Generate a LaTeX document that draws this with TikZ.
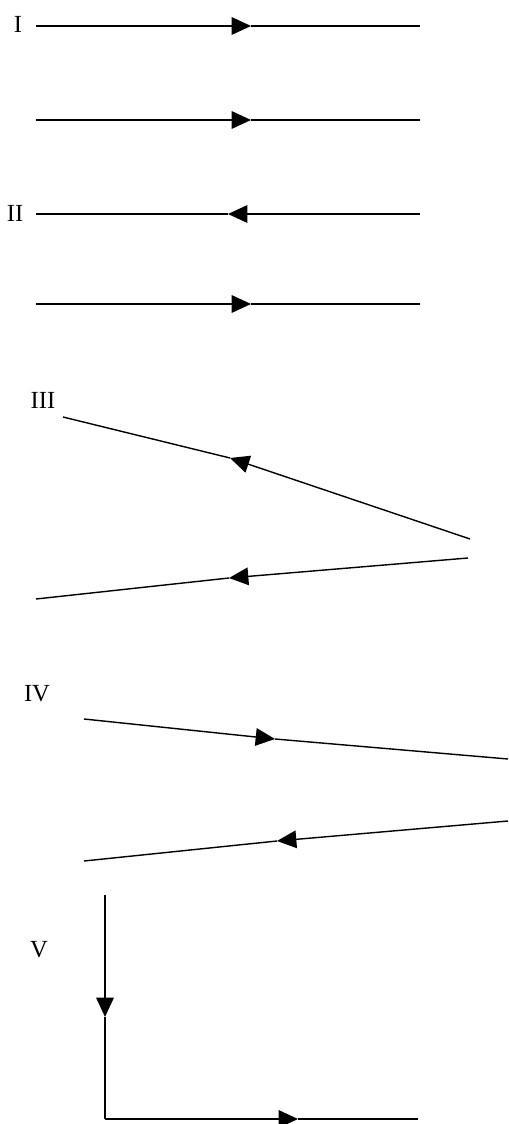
\documentclass[tikz,border=0pt]{standalone}
\usepackage{fontspec}
\setmainfont{Liberation Serif}
\usepackage{tikz}
\usetikzlibrary{arrows.meta, positioning}

\begin{document}
\begin{tikzpicture}[
  x=0.02cm, y=-0.02cm,
  ray/.style={line width=0.8pt, black},
  tip/.style={ray, -{Triangle[length=11pt, width=10pt]}},
  tag/.style={font=\fontsize{14}{16}\selectfont, inner sep=0pt}
]
\useasboundingbox (0,0) rectangle (508,1124);

% ---- Case I ----
\node[tag] (tI) at (18,24) {I};
\coordinate (Ia1) at (36,26);  \coordinate (Im1) at (251,26);  \coordinate (Ib1) at (420,26);
\coordinate (Ia2) at (36,120); \coordinate (Im2) at (251,120); \coordinate (Ib2) at (420,120);
\draw[tip] (Ia1) -- (Im1);
\draw[ray] (Im1) -- (Ib1);
\draw[tip] (Ia2) -- (Im2);
\draw[ray] (Im2) -- (Ib2);

% ---- Case II ----
\node[tag] (tII) at (15,213) {II};
\coordinate (IIa1) at (36,214);  \coordinate (IIm1) at (228,214); \coordinate (IIb1) at (420,214);
\coordinate (IIa2) at (36,304);  \coordinate (IIm2) at (251,304); \coordinate (IIb2) at (420,304);
\draw[tip] (IIb1) -- (IIm1);
\draw[ray] (IIm1) -- (IIa1);
\draw[tip] (IIa2) -- (IIm2);
\draw[ray] (IIm2) -- (IIb2);

% ---- Case III ----
\node[tag] (tIII) at (43,400) {III};
\coordinate (IIIa1) at (63,417); \coordinate (IIIm1) at (230,458); \coordinate (IIIb1) at (470,539);
\coordinate (IIIa2) at (36,599); \coordinate (IIIm2) at (229,578); \coordinate (IIIb2) at (468,558);
\draw[tip] (IIIb1) -- (IIIm1);
\draw[ray] (IIIm1) -- (IIIa1);
\draw[tip] (IIIb2) -- (IIIm2);
\draw[ray] (IIIm2) -- (IIIa2);

% ---- Case IV ----
\node[tag] (tIV) at (37,694) {IV};
\coordinate (IVa1) at (84,719); \coordinate (IVm1) at (275,739); \coordinate (IVb1) at (508,759);
\coordinate (IVa2) at (84,861); \coordinate (IVm2) at (277,841); \coordinate (IVb2) at (508,821);
\draw[tip] (IVa1) -- (IVm1);
\draw[ray] (IVm1) -- (IVb1);
\draw[tip] (IVb2) -- (IVm2);
\draw[ray] (IVm2) -- (IVa2);

% ---- Case V ----
\node[tag] (tV) at (39,950) {V};
\coordinate (Va) at (105,895); \coordinate (Vm1) at (105,1017); \coordinate (Vc) at (105,1119);
\coordinate (Vm2) at (298,1119); \coordinate (Vb) at (418,1119);
\draw[tip] (Va) -- (Vm1);
\draw[ray] (Vm1) -- (Vc);
\draw[tip] (Vc) -- (Vm2);
\draw[ray] (Vm2) -- (Vb);

\end{tikzpicture}
\end{document}
